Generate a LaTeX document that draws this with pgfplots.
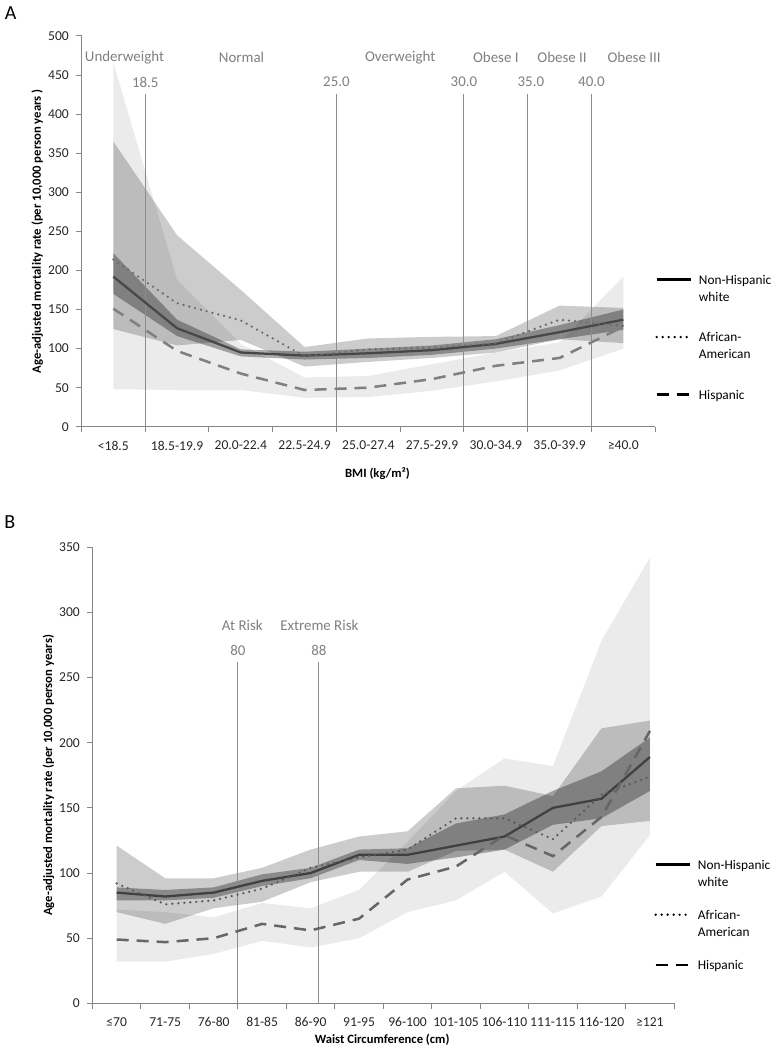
\documentclass[border=0pt]{standalone}
\usepackage{fontspec}
\setmainfont{Carlito}
\usepackage{pgfplots}
\usepackage{pgfplotstable}
\pgfplotsset{compat=1.18}
\usepgfplotslibrary{fillbetween}

\definecolor{axisgray}{HTML}{868686}
\definecolor{refgray}{HTML}{8C8C8C}
\definecolor{labgray}{HTML}{7F7F7F}

\pgfplotstableread{
x nhw nhwlo nhwhi aa aalo aahi his hislo hishi
0 192 170 222 214 125 365 151 48 466
1 126 116 137 158 104 245 97 47 188
2 95 90 99 136 111 175 68 47 106
3 91 86 96 90 77 102 47 37 63
4 94 88 100 99 83 113 50 38 65
5 98 92 104 101 88 115 61 46 80
6 106 100 112 107 95 116 78 58 95
7 121 112 130 137 112 155 88 72 108
8 137 124 150 129 107 152 128 100 192
}\bmi

\pgfplotstableread{
x nhw nhwlo nhwhi aa aalo aahi his hislo hishi
0 85 79 89 92 70 121 49 32 72
1 82 79 87 76 61 96 47 32 70
2 85 81 89 79 73 96 50 38 66
3 94 90 99 88 78 104 61 48 77
4 100 96 104 104 93 118 56 43 73
5 114 110 118 112 101 128 65 50 87
6 114 107 119 118 101 132 95 70 124
7 121 112 138 142 117 165 105 79 163
8 128 118 145 142 118 167 129 101 188
9 150 137 163 126 101 159 113 69 182
10 157 142 178 160 136 211 143 82 278
11 189 163 204 174 140 217 209 129 342
}\waist

\tikzset{
  reflab/.style={text=labgray, font=\fontsize{11.2}{13}\selectfont},
  solidl/.style={line width=1.7pt},
  dotl/.style={line width=1.9pt, line cap=round, dash pattern=on 0pt off 4.5pt},
  dashl/.style={line width=1.9pt, dash pattern=on 9pt off 6pt},
}

\pgfplotsset{
  common/.style={
    scale only axis,
    anchor=south west,
    clip=false,
    axis lines*=left,
    axis line style={axisgray, line width=0.75pt},
    tick style={axisgray, line width=0.75pt},
    major tick length=4pt,
    tick align=outside,
    xticklabels={},
    extra x tick style={major tick length=0pt},
    xticklabel style={yshift=-7pt},
    yticklabel style={xshift=-2pt},
    tick label style={font=\fontsize{10.2}{12}\selectfont, text=black!85},
    /pgf/number format/assume math mode=true,
    label style={font=\bfseries\fontsize{9.5}{11}\selectfont, text=black},
    legend style={draw=none, fill=none, inner sep=0pt, anchor=north west,
      font=\fontsize{10}{12.75}\selectfont, row sep=17.8pt, column sep=2.75pt,
      cells={anchor=north west, align=left, inner sep=1pt}},
    legend image code/.code={\draw[##1, draw=black] (0pt,-5.5pt) -- (26pt,-5.5pt);},
  },
}

\begin{document}
\begin{tikzpicture}
\path (0,0) rectangle (575.25pt,787.5pt);
\node[font=\fontsize{15}{18}\selectfont] at (6pt,778pt) {A};
\node[font=\fontsize{15}{18}\selectfont] at (5.5pt,396pt) {B};

% ---------------- Panel A ----------------
\begin{axis}[common,
  at={(59.25pt,467.25pt)}, width=430.5pt, height=293.25pt,
  xmin=-0.5, xmax=8.5, ymin=0, ymax=500,
  ytick={0,50,...,500},
  xtick={-0.5,0.5,...,8.5},
  extra x ticks={0,1,2,3,4,5,6,7,8},
  extra x tick labels={<18.5,18.5-19.9,20.0-22.4,22.5-24.9,25.0-27.4,27.5-29.9,30.0-34.9,35.0-39.9,≥40.0},
  xlabel={BMI (kg/m²)},
  ylabel={Age-adjusted mortality rate (per 10,000 person years )},
  xlabel style={at={(axis description cs:0.516,-0.12)}, anchor=center},
  ylabel style={at={(axis description cs:-0.077,0.5)}, anchor=center},
  legend style={at={(axis description cs:1.0,0.396)}},
]
\addplot[name path=ahl, draw=none, forget plot] table[x=x,y=hislo]{\bmi};
\addplot[name path=ahh, draw=none, forget plot] table[x=x,y=hishi]{\bmi};
\addplot[fill=black, fill opacity=0.08, draw=none, forget plot] fill between[of=ahl and ahh];
\addplot[name path=aal, draw=none, forget plot] table[x=x,y=aalo]{\bmi};
\addplot[name path=aah, draw=none, forget plot] table[x=x,y=aahi]{\bmi};
\addplot[fill=black, fill opacity=0.2, draw=none, forget plot] fill between[of=aal and aah];
\addplot[name path=anl, draw=none, forget plot] table[x=x,y=nhwlo]{\bmi};
\addplot[name path=anh, draw=none, forget plot] table[x=x,y=nhwhi]{\bmi};
\addplot[fill=black, fill opacity=0.32, draw=none, forget plot] fill between[of=anl and anh];

\draw[refgray, line width=0.75pt] (axis cs:0.5,0) -- (axis cs:0.5,426);
\draw[refgray, line width=0.75pt] (axis cs:3.5,0) -- (axis cs:3.5,426);
\draw[refgray, line width=0.75pt] (axis cs:5.5,0) -- (axis cs:5.5,426);
\draw[refgray, line width=0.75pt] (axis cs:6.5,0) -- (axis cs:6.5,426);
\draw[refgray, line width=0.75pt] (axis cs:7.5,0) -- (axis cs:7.5,426);
\node[reflab] at (axis cs:0.5,441) {18.5};
\node[reflab] at (axis cs:3.5,441) {25.0};
\node[reflab] at (axis cs:5.5,441) {30.0};
\node[reflab] at (axis cs:6.55,441) {35.0};
\node[reflab] at (axis cs:7.5,441) {40.0};
\node[reflab] at (axis cs:0.174,472) {Underweight};
\node[reflab] at (axis cs:2.01,472) {Normal};
\node[reflab] at (axis cs:4.5,472) {Overweight};
\node[reflab] at (axis cs:6.0,472) {Obese I};
\node[reflab] at (axis cs:7.04,472) {Obese II};
\node[reflab] at (axis cs:8.17,472) {Obese III};

\addplot[solidl, black!72] table[x=x,y=nhw]{\bmi};
\addlegendentry{Non-Hispanic\\white}
\addplot[dotl, black!58] table[x=x,y=aa]{\bmi};
\addlegendentry{African-\\American}
\addplot[dashl, black!50] table[x=x,y=his]{\bmi};
\addlegendentry{Hispanic}
\end{axis}

% ---------------- Panel B ----------------
\begin{axis}[common,
  at={(67.5pt,34.5pt)}, width=436.5pt, height=342.4pt,
  xmin=-0.5, xmax=11.5, ymin=0, ymax=350,
  ytick={0,50,...,350},
  xtick={-0.5,0.5,...,11.5},
  extra x ticks={0,1,2,3,4,5,6,7,8,9,10,11},
  extra x tick labels={≤70,71-75,76-80,81-85,86-90,91-95,96-100,101-105,106-110,111-115,116-120,≥121},
  xlabel={Waist Circumference (cm)},
  ylabel={Age-adjusted mortality rate (per 10,000 person years)},
  xlabel style={at={(axis description cs:0.498,-0.08)}, anchor=center},
  ylabel style={at={(axis description cs:-0.0756,0.5)}, anchor=center},
  legend style={at={(axis description cs:0.9656,0.321)}, row sep=12.3pt},
]
\addplot[name path=bhl, draw=none, forget plot] table[x=x,y=hislo]{\waist};
\addplot[name path=bhh, draw=none, forget plot] table[x=x,y=hishi]{\waist};
\addplot[fill=black, fill opacity=0.08, draw=none, forget plot] fill between[of=bhl and bhh];
\addplot[name path=bal, draw=none, forget plot] table[x=x,y=aalo]{\waist};
\addplot[name path=bah, draw=none, forget plot] table[x=x,y=aahi]{\waist};
\addplot[fill=black, fill opacity=0.2, draw=none, forget plot] fill between[of=bal and bah];
\addplot[name path=bnl, draw=none, forget plot] table[x=x,y=nhwlo]{\waist};
\addplot[name path=bnh, draw=none, forget plot] table[x=x,y=nhwhi]{\waist};
\addplot[fill=black, fill opacity=0.32, draw=none, forget plot] fill between[of=bnl and bnh];

\draw[refgray, line width=0.75pt] (axis cs:2.5,0) -- (axis cs:2.5,262);
\draw[refgray, line width=0.75pt] (axis cs:4.17,0) -- (axis cs:4.17,262);
\node[reflab] at (axis cs:2.5,271) {80};
\node[reflab] at (axis cs:4.17,271) {88};
\node[reflab] at (axis cs:2.59,290) {At Risk};
\node[reflab] at (axis cs:4.18,290) {Extreme Risk};

\addplot[solidl, black!75] table[x=x,y=nhw]{\waist};
\addlegendentry{Non-Hispanic\\white}
\addplot[dotl, black!65] table[x=x,y=aa]{\waist};
\addlegendentry{African-\\American}
\addplot[dashl, black!60] table[x=x,y=his]{\waist};
\addlegendentry{Hispanic}
\end{axis}
\end{tikzpicture}
\end{document}
